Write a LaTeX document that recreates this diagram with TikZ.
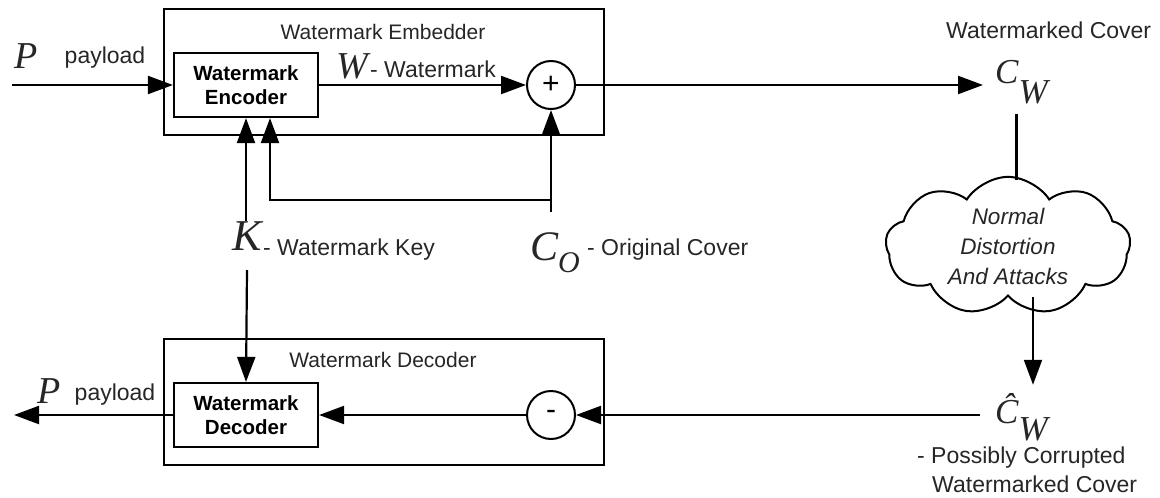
\documentclass[tikz,border=0pt]{standalone}
\usepackage{fontspec}
\setmainfont{Liberation Sans}
\newfontfamily\tms{Liberation Serif}
\usetikzlibrary{positioning, shapes, shapes.symbols, arrows.meta, calc}

\newcommand{\sym}[2][38]{{\fontsize{#1}{#1}\selectfont\tms\itshape #2}}

\begin{document}
\begin{tikzpicture}[x=1pt, y=-1pt,
    every node/.style={font=\fontsize{23}{26}\selectfont, text=black!85, inner sep=2pt},
    title/.style={font=\fontsize{21}{24}\selectfont},
    frame/.style={draw, line width=1.4pt, minimum width=440pt, minimum height=126pt},
    unit/.style={draw, line width=2.2pt, minimum width=144pt, minimum height=64pt, align=center,
      text=black, font=\fontsize{20.5}{24}\selectfont\bfseries},
    op/.style={draw, circle, line width=2pt, minimum size=48pt, inner sep=0pt, text=black,
      font=\fontsize{30}{30}\selectfont},
    arr/.style={line width=2.2pt, -{Triangle[length=25pt, width=18pt]}},
    ln/.style={line width=2.2pt}]
  \useasboundingbox (0,0) rectangle (1160,498);

  \node[frame] (embed) at (384,72) {};
  \node[frame] (decode) at (384,402) {};
  \node[title] (etitle) at (383,32) {Watermark Embedder};
  \node[title] (dtitle) at (383,360) {Watermark Decoder};

  \node[unit] (enc) at (246,85) {Watermark\\Encoder};
  \node[unit] (dec) at (246,415) {Watermark\\Decoder};
  \node[op] (plus) at (551,85) {+};
  \node[op] (minus) at (551,415) {-};

  \node[anchor=base] (pin) at (26,68) {\sym{P}};
  \node[anchor=base] (pinlab) at (105,63) {payload};
  \node[anchor=base] (pout) at (49,403) {\sym{P}};
  \node[anchor=base] (poutlab) at (115,400) {payload};
  \node[anchor=base] (wsym) at (352,78) {\sym{W}};
  \node[anchor=base west, inner sep=0pt] (wlab) at (370,77) {- Watermark};

  \node[anchor=base, inner sep=0pt] (key) at (247,250) {\sym[44]{K}};
  \node[anchor=base west, inner sep=0pt] (keylab) at (263,255) {- Watermark Key};
  \node[anchor=base west, inner sep=0pt] (co) at (530,260) {\sym[42]{C}\raisebox{-12pt}{\sym[30]{O}}};
  \node[anchor=base west, inner sep=0pt] (colab) at (587,255) {- Original Cover};

  \node[anchor=base west, inner sep=0pt] (cw) at (995,83) {\sym[35]{C}\raisebox{-20pt}{\sym[35]{W}}};
  \node[anchor=base west, inner sep=0pt] (cwlab) at (946,38) {Watermarked Cover};
  \node[anchor=base west, inner sep=0pt] (cwh) at (995,423) {\sym[35]{\^C}\raisebox{-17pt}{\sym[35]{W}}};
  \node[anchor=base west, inner sep=0pt] (cwhlab) at (917,463) {- Possibly Corrupted};
  \node[anchor=base west, inner sep=0pt] (cwhlab2) at (932,492) {Watermarked Cover};

  \node[cloud, draw, line width=2pt, cloud puffs=9, cloud puff arc=115, aspect=1.8,
    minimum width=245pt, minimum height=138pt, inner sep=0pt, align=center,
    font=\fontsize{22.5}{30}\selectfont\itshape] (noise) at (1008,246) {Normal\\Distortion\\And Attacks};

  \coordinate (out) at (14,415);
  \coordinate (tap) at ($(plus)+(0,115)$);

  \draw[arr] (pin.west |- enc) -- (enc);
  \draw[arr] (enc) -- (plus);
  \draw[arr] (plus) -- ([xshift=-12pt]plus -| cw.west);
  \draw[ln] ($(cw.south)+(-5,10)$) -- ($(cw.south |- noise.north)+(-5,4)$);
  \draw[arr] ([xshift=25pt]noise.south) -- ([xshift=25pt,yshift=8pt]noise.south |- cwh.north);
  \draw[arr] ([xshift=-15pt]minus -| cwh.west) -- (minus);
  \draw[arr] (minus) -- (dec);
  \draw[arr] (dec) -- (out);
  \draw[arr] (enc.south |- key.north) -- (enc.south);
  \draw[arr] ($(tap)+(0,12)$) -- (plus);
  \draw[arr] (tap) -| ([xshift=24pt]enc.south);
  \draw[arr] ($(key.south)+(0,20)$) -- (dec.north);
\end{tikzpicture}
\end{document}
